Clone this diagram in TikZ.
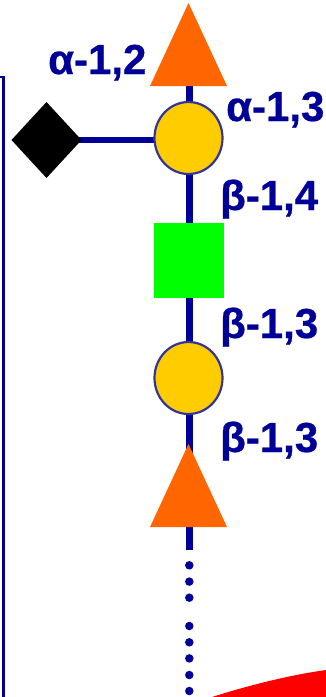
\documentclass[tikz,border=0pt]{standalone}
\usepackage{fontspec}
\usetikzlibrary{shapes.geometric,backgrounds}
\setmainfont[BoldFeatures={FakeBold=0.6}]{Liberation Sans}
\definecolor{linkblue}{RGB}{0,0,153}
\definecolor{galorange}{RGB}{255,102,0}
\definecolor{hexyellow}{RGB}{255,204,0}
\definecolor{ringblue}{RGB}{51,51,153}
\tikzset{
  x=1pt,y=-1pt,
  link/.style={draw=linkblue,line width=6.5pt},
  fucosenode/.style={isosceles triangle,isosceles triangle stretches=true,shape border rotate=90,fill=galorange,draw=none,minimum width=77pt,minimum height=83pt,inner sep=0pt,outer sep=0pt,anchor=lower side},
  hexosenode/.style={ellipse,fill=hexyellow,draw=ringblue,line width=2.2pt,minimum width=68pt,minimum height=72pt,inner sep=0pt,outer sep=0pt},
  lab/.style={font=\fontsize{42}{46}\bfseries\selectfont,text=linkblue,inner sep=0pt,anchor=base west},
  beadot/.style={circle,fill=linkblue,draw=none,minimum size=8.5pt,inner sep=0pt}
}
\begin{document}
\begin{tikzpicture}
\useasboundingbox (0,0) rectangle (326,697);
\fill[red] (212,697) .. controls (250,685) and (290,675) .. (326,670) -- (326,697) -- cycle;
\draw[linkblue,line width=2.6pt] (0,77) -- (3.3,77) -- (3.3,697);
\node[hexosenode] (c1) at (188.5,138) {};
\node[hexosenode] (c2) at (188.5,378) {};
\node[draw=none,fill=green,minimum width=70pt,minimum height=75pt,inner sep=0pt,outer sep=0pt] (sq) at (188.7,260) {};
\node[diamond,fill=black,draw=none,minimum width=70pt,minimum height=76pt,aspect=0.92,inner sep=0pt,outer sep=0pt] (dia) at (46.5,140) {};
\node[fucosenode] (t1) at (188.5,86) {};
\node[fucosenode] (t2) at (188.5,527) {};
\coordinate (tail) at (189.3,550);
\begin{scope}[on background layer]
\draw[link] (dia.center) -- (c1.center |- dia.center);
\draw[link] ([xshift=0.8pt]t1.lower side) -- ([xshift=0.8pt]c1.center);
\draw[link] ([xshift=0.8pt]c1.center) -- ([xshift=0.6pt]sq.center);
\draw[link] ([xshift=0.6pt]sq.center) -- ([xshift=0.8pt]c2.center);
\draw[link] ([xshift=0.8pt]c2.center) -- ([xshift=0.8pt]t2.lower side);
\draw[link] ([xshift=0.8pt]t2.lower side) -- (tail);
\end{scope}
\foreach \y in {565.3,581.6,597.7,626,642.3,658.4,675,691}
  \node[beadot] at (189.3,\y) {};
\node[lab] at (48,74) {α-1,2};
\node[lab] at (226,121) {α-1,3};
\node[lab] at (220,210) {β-1,4};
\node[lab] at (220,338) {β-1,3};
\node[lab] at (220,452) {β-1,3};
\end{tikzpicture}
\end{document}
